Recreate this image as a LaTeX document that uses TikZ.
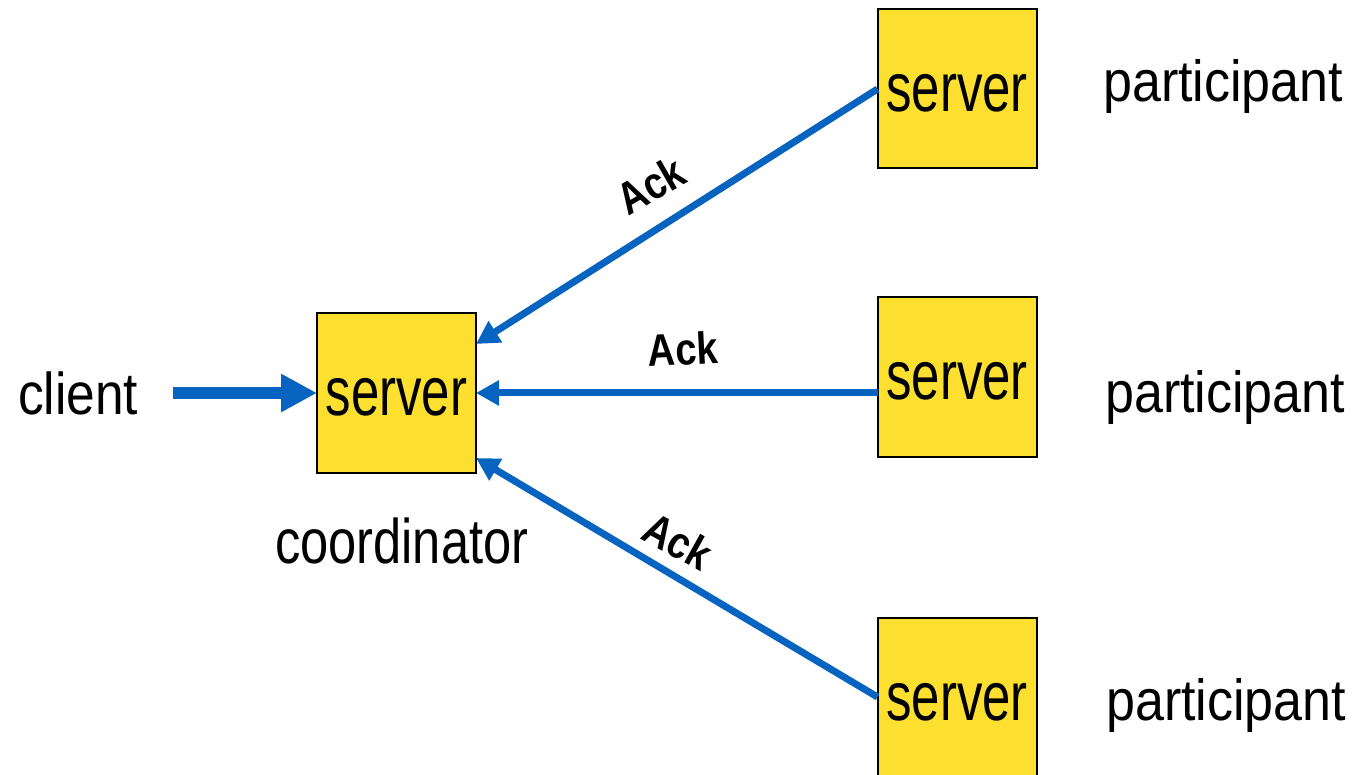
\documentclass[tikz,border=0pt]{standalone}
\usepackage{fontspec}
\usepackage{graphicx}
\setmainfont{Liberation Sans}
\usetikzlibrary{arrows.meta,calc}
\definecolor{arrowblue}{RGB}{6,100,192}
\definecolor{boxyellow}{RGB}{253,224,47}
\newcommand{\srvtext}{{\fontsize{69}{80}\selectfont\scalebox{0.738}[1]{server}}}
\begin{document}
\begin{tikzpicture}[x=1pt,y=-1pt,
  srvbox/.style={draw=black, line width=2pt, fill=boxyellow, minimum width=159pt, minimum height=159pt, inner sep=0pt, outer sep=0pt, text height=46pt, text depth=0pt},
  lbl/.style={inner sep=0pt, anchor=base west},
  acklbl/.style={inner sep=0pt, font=\bfseries\fontsize{45}{50}\selectfont},
  ackarrow/.style={draw=arrowblue, line width=7pt, -{Triangle[length=23pt,width=24pt]}},
  clientarrow/.style={draw=arrowblue, line width=12pt, -{Triangle[length=36pt,width=36pt]}}
]
\path[use as bounding box] (0,0) rectangle (1355,775);
\clip (0,0) rectangle (1355,775);

% boxes
\node[srvbox] (c) at (396.5,393) {\srvtext};
\node[srvbox] (s1) at (957,89) {\srvtext};
\node[srvbox] (s2) at (957,377) {\srvtext};
\node[srvbox] (s3) at (957,697) {\srvtext};

% labels
\node[lbl] (client) at (18,415) {\fontsize{59}{70}\selectfont\scalebox{0.871}[1]{client}};
\node[lbl] (coord) at (275,563) {\fontsize{63}{74}\selectfont\scalebox{0.803}[1]{coordinator}};
\node[lbl] (p1) at (1103,102) {\fontsize{58}{70}\selectfont\scalebox{0.897}[1]{participant}};
\node[lbl] (p2) at (1105,413) {\fontsize{58}{70}\selectfont\scalebox{0.897}[1]{participant}};
\node[lbl] (p3) at (1106,720) {\fontsize{58}{70}\selectfont\scalebox{0.897}[1]{participant}};

% arrows
\coordinate (cstart) at (173,393);
\draw[clientarrow] (cstart) -- (c.west);
\draw[ackarrow] (s1.west) -- ($(c.east)+(0,-49)$);
\draw[ackarrow] (s2.west |- c.east) -- (c.east);
\draw[ackarrow] (s3.west) -- ($(c.east)+(0,65)$);

% Ack labels
\node[acklbl, rotate=30] (a1) at (651,185) {\scalebox{0.85}[1]{Ack}};
\node[acklbl, rotate=3] (a2) at (683,349) {\scalebox{0.85}[1]{Ack}};
\node[acklbl, rotate=-29] (a3) at (678,541) {\scalebox{0.85}[1]{Ack}};
\end{tikzpicture}
\end{document}
